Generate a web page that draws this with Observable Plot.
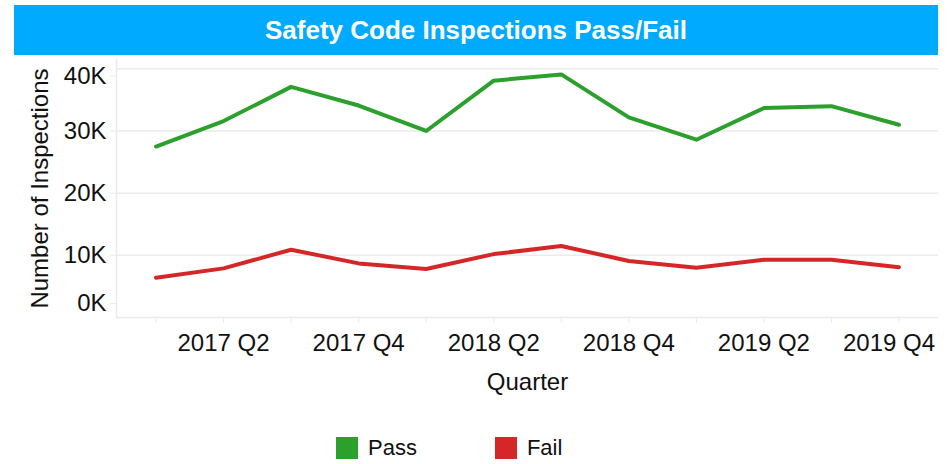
<!DOCTYPE html>
<html><head><meta charset="utf-8">
<script src="https://cdn.jsdelivr.net/npm/d3@7"></script>
<script src="https://cdn.jsdelivr.net/npm/@observablehq/plot@0.6"></script>
<style>
body{margin:0;background:#fff;font-family:"Liberation Sans",Arial,sans-serif;}
#wrap{position:relative;width:950px;height:464px;overflow:hidden;}
#title{position:absolute;left:14px;top:5px;width:924px;height:50px;background:#00aaff;color:#fff;font-weight:bold;font-size:26px;display:flex;align-items:center;justify-content:center;}
#chart{position:absolute;left:0;top:55px;}
#legend{position:absolute;left:336px;top:431px;}
.lg-swatches{font-family:"Liberation Sans",Arial,sans-serif!important;font-size:22px!important;margin:0!important;color:#111;}
.lg-swatch{margin-right:78px!important;}
.lg-swatch>svg{margin-right:10px!important;}
</style></head><body>
<div id="wrap"><div id="title">Safety Code Inspections Pass/Fail</div><div id="chart"></div><div id="legend"></div></div>
<script>
const quarters = ["2017 Q1","2017 Q2","2017 Q3","2017 Q4","2018 Q1","2018 Q2","2018 Q3","2018 Q4","2019 Q1","2019 Q2","2019 Q3","2019 Q4"];
const passValues = [27500, 31600, 37100, 34100, 30000, 38100, 39100, 32200, 28600, 33700, 34000, 31000];
const failValues = [6400, 7900, 10900, 8700, 7800, 10200, 11500, 9100, 8000, 9300, 9300, 8100];
const seriesNames = ["Pass", "Fail"];
const seriesColors = ["#2ca02c", "#d62728"];
const yTicks = [0, 10000, 20000, 30000, 40000];
const xTickLabels = ["2017 Q2", "2017 Q4", "2018 Q2", "2018 Q4", "2019 Q2", "2019 Q4"];

const data = quarters.flatMap((q, i) => [
  {quarter: q, series: "Pass", value: passValues[i]},
  {quarter: q, series: "Fail", value: failValues[i]}
]);
const fmt = d => (d / 1000) + "K";
const font = "'Liberation Sans', Arial, sans-serif";
const gridColor = "#ebebeb";
const yAxisOpts = {tickSize: 6, tickPadding: 4, stroke: gridColor, tickFormat: fmt, fontSize: 24, fill: "#111"};
const xAxisOpts = {tickSize: 0, tickPadding: 16, fontSize: 24, fill: "#111"};

const chart = Plot.plot({
  width: 950, height: 350,
  marginTop: 4, marginRight: 12, marginBottom: 88, marginLeft: 116,
  style: {fontFamily: font, fontSize: "24px", color: "#111", background: "transparent", overflow: "visible"},
  x: {type: "point", domain: quarters, padding: 0.585, round: false},
  y: {domain: [0, 41500]},
  color: {domain: seriesNames, range: seriesColors},
  marks: [
    Plot.gridY(yTicks, {stroke: gridColor, strokeOpacity: 1, strokeWidth: 1.5}),
    Plot.frame({anchor: "left", stroke: gridColor, strokeWidth: 1.5}),
    Plot.axisY(yTicks.slice(1, 4), {...yAxisOpts, label: "Number of Inspections", labelAnchor: "center", labelArrow: "none", labelOffset: 86}),
    Plot.axisY(yTicks.slice(4), {...yAxisOpts, dy: 7, label: null}),
    Plot.axisY(yTicks.slice(0, 1), {...yAxisOpts, dy: -14, label: null}),
    Plot.axisX(quarters, {tickSize: 6, stroke: gridColor, tickFormat: () => "", label: null}),
    Plot.axisX(xTickLabels.slice(0, 5), {...xAxisOpts, label: "Quarter", labelAnchor: "center", labelArrow: "none", labelOffset: 72}),
    Plot.axisX(xTickLabels.slice(5), {...xAxisOpts, dx: -10, label: null}),
    Plot.line(data, {x: "quarter", y: "value", stroke: "series", strokeWidth: 4})
  ]
});
document.getElementById("chart").append(chart);

const legend = Plot.legend({
  color: {domain: seriesNames, range: seriesColors},
  legend: "swatches", swatchSize: 22, className: "lg",
  style: {fontFamily: font, fontSize: "22px"}
});
document.getElementById("legend").append(legend);
</script>
</body></html>
